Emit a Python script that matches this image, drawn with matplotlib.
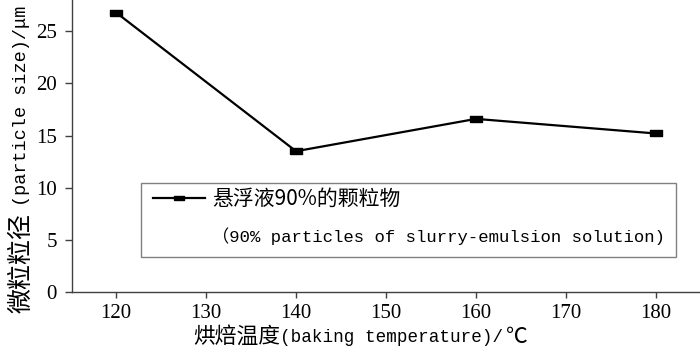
import matplotlib
matplotlib.use("Agg")
import matplotlib.pyplot as plt
from matplotlib.lines import Line2D
from matplotlib.patches import Rectangle

# data
temps = [120, 140, 160, 180]
sizes = [26.8, 13.5, 16.6, 15.2]
xticks = [120, 130, 140, 150, 160, 170, 180]
yticks = [0, 5, 10, 15, 20, 25]
series_cn = "悬浮液90%的颗粒物"
series_en = "（90% particles of slurry-emulsion solution)"

W, H = 700, 352
cjk = ["Noto Sans CJK SC", "DejaVu Sans"]
mono = ["Liberation Mono", "Noto Sans CJK SC"]


def fx(x):
    return x / W


def fy(y):
    return 1 - y / H


# flat rectangular marker like the original
rect_marker = [(-1, -0.55), (1, -0.55), (1, 0.55), (-1, 0.55), (-1, -0.55)]

fig = plt.figure(figsize=(7, 3.52), dpi=100)
ax = fig.add_axes([72 / W, 60 / H, 628 / W, 292 / H])

ax.plot(temps, sizes, color="black", lw=1.6, marker=rect_marker, ms=8,
        markerfacecolor="black", markeredgecolor="black")

ax.set_xlim(115.1, 184.9)
ax.set_ylim(0, 28)
ax.set_xticks(xticks)
ax.set_yticks(yticks)
for s in ["top", "right"]:
    ax.spines[s].set_visible(False)
for s in ["left", "bottom"]:
    ax.spines[s].set_color("#404040")
    ax.spines[s].set_linewidth(1)
ax.tick_params(axis="x", direction="out", length=4, width=1, color="#404040",
               labelsize=15, pad=5)
ax.tick_params(axis="y", direction="out", length=5, width=1, color="#404040",
               labelsize=15, pad=6)
for lab in ax.get_xticklabels() + ax.get_yticklabels():
    lab.set_family("Liberation Serif")

# legend: handle + chinese line, english line below, gray box
handle = Line2D([], [], color="black", lw=1.6, marker=rect_marker, ms=6.5)
ax.legend([handle], [series_cn], loc="center left",
          bbox_to_anchor=((153 - 72) / 628, (292 - 199) / 292),
          frameon=False, borderpad=0, borderaxespad=0,
          handlelength=2.5, handletextpad=0.34,
          prop={"family": cjk, "size": 15})
ax.text((212 - 72) / 628, (292 - 236) / 292, series_en, transform=ax.transAxes,
        ha="left", va="center", family=mono, fontsize=12.4)
ax.add_patch(Rectangle(((141 - 72) / 628, (292 - 257) / 292), (676 - 141) / 628,
                       (257 - 183) / 292, transform=ax.transAxes, fill=False,
                       edgecolor="#808080", lw=1))

# y label: chinese part + english part
fig.text(fx(22), fy(313), "微粒粒径", rotation=90, ha="center", va="bottom",
         family=cjk, fontsize=18)
fig.text(fx(22), fy(206), "(particle size)/μm", rotation=90, ha="center", va="bottom",
         family=mono, fontsize=13.3)

# x label
fig.text(fx(193), fy(337), "烘焙温度", ha="left", va="center", family=cjk, fontsize=15.7)
fig.text(fx(280), fy(337), "(baking temperature)/", ha="left", va="center",
         family=mono, fontsize=12.7)
fig.text(fx(506), fy(337), "℃", ha="left", va="center", family=cjk, fontsize=15.7)

fig.savefig("out.png", dpi=100)
